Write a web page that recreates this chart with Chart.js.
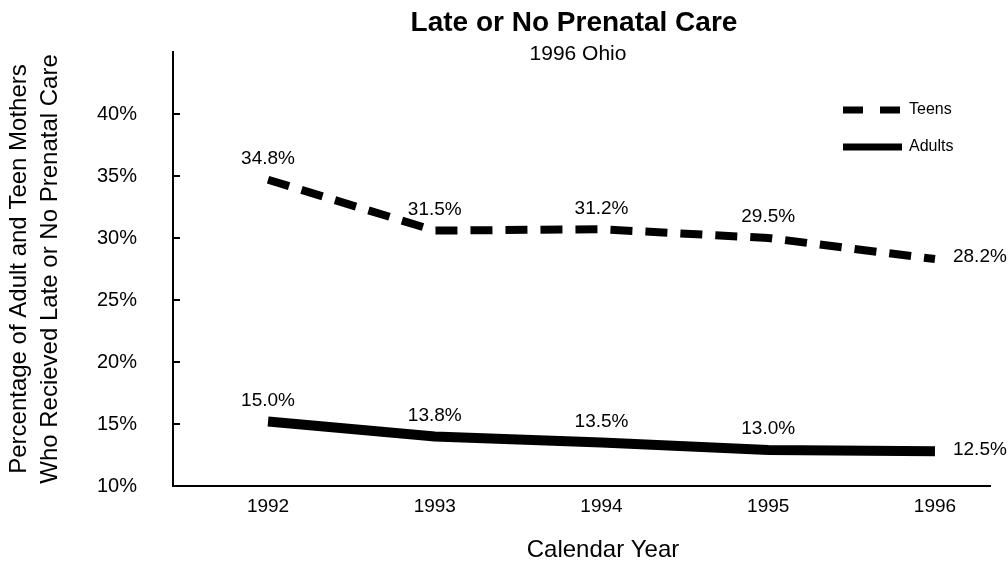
<!DOCTYPE html>
<html>
<head>
<meta charset="utf-8">
<script src="https://cdn.jsdelivr.net/npm/chart.js@4/dist/chart.umd.min.js"></script>
<style>
  html, body { margin: 0; padding: 0; background: #fff; }
  #wrap { width: 1008px; height: 566px; position: relative; }
</style>
</head>
<body>
<div id="wrap"><canvas id="chart" width="1008" height="566"></canvas></div>
<script>
// Data
const years = [1992, 1993, 1994, 1995, 1996];
const teensValues = [34.7, 30.6, 30.7, 30.0, 28.3];
const adultsValues = [15.2, 14.0, 13.5, 12.9, 12.8];
const teensLabels = ['34.8%', '31.5%', '31.2%', '29.5%', '28.2%'];
const adultsLabels = ['15.0%', '13.8%', '13.5%', '13.0%', '12.5%'];
const yTicks = [10, 15, 20, 25, 30, 35, 40];

const FONT = '"Liberation Sans", Arial, Helvetica, sans-serif';

// titles, legend, point labels and inner y ticks
const overlay = {
    id: 'overlay',
    afterDraw(chart) {
        const ctx = chart.ctx;
        const area = chart.chartArea;
        const y = chart.scales.y;
        ctx.save();
        ctx.fillStyle = '#000';
        ctx.strokeStyle = '#000';

        // inner tick marks on y axis
        ctx.lineWidth = 2;
        yTicks.forEach(v => {
            const py = Math.round(y.getPixelForValue(v));
            ctx.beginPath();
            ctx.moveTo(area.left, py);
            ctx.lineTo(area.left + 7, py);
            ctx.stroke();
        });

        // title + subtitle
        ctx.textAlign = 'center';
        ctx.textBaseline = 'middle';
        ctx.font = 'bold 28px ' + FONT;
        ctx.fillText('Late or No Prenatal Care', 574, 23);
        ctx.font = '21px ' + FONT;
        ctx.fillText('1996 Ohio', 578, 54);

        // x axis title
        ctx.font = '24px ' + FONT;
        ctx.fillText('Calendar Year', 603, 550);

        // point labels
        ctx.font = '19px ' + FONT;
        chart.data.datasets.forEach((ds, i) => {
            const meta = chart.getDatasetMeta(i);
            const labels = i === 0 ? teensLabels : adultsLabels;
            meta.data.forEach((pt, j) => {
                if (j === labels.length - 1) {
                    ctx.textAlign = 'left';
                    ctx.fillText(labels[j], pt.x + 18, pt.y - 2);
                } else {
                    ctx.textAlign = 'center';
                    ctx.fillText(labels[j], pt.x, pt.y - 21);
                }
            });
        });

        // legend
        const lx = area.right - 147;
        chart.data.datasets.forEach((ds, i) => {
            const ly = 110 + i * 37;
            ctx.lineWidth = 7;
            ctx.lineCap = 'butt';
            ctx.setLineDash(ds.borderDash ? [20, 17] : []);
            ctx.beginPath();
            ctx.moveTo(lx, ly);
            ctx.lineTo(lx + 59, ly);
            ctx.stroke();
            ctx.setLineDash([]);
            ctx.textAlign = 'left';
            ctx.font = '16px ' + FONT;
            ctx.fillText(ds.label, lx + 66, ly);
        });
        ctx.restore();
    }
};

new Chart(document.getElementById('chart'), {
    type: 'line',
    data: {
        datasets: [{
            label: 'Teens',
            data: years.map((yr, i) => ({ x: yr, y: teensValues[i] })),
            borderColor: '#000',
            borderWidth: 8,
            borderDash: [22, 13],
            borderCapStyle: 'butt',
            pointRadius: 0,
            tension: 0
        }, {
            label: 'Adults',
            data: years.map((yr, i) => ({ x: yr, y: adultsValues[i] })),
            borderColor: '#000',
            borderWidth: 10,
            borderCapStyle: 'butt',
            pointRadius: 0,
            tension: 0
        }]
    },
    options: {
        responsive: false,
        animation: false,
        layout: { padding: { top: 52, right: 18, left: 0, bottom: 0 } },
        plugins: {
            legend: { display: false },
            tooltip: { enabled: false }
        },
        scales: {
            x: {
                type: 'linear',
                min: 1991.43,
                max: 1996.33,
                afterBuildTicks: s => { s.ticks = years.map(v => ({ value: v })); },
                afterFit: s => { s.height = 80; },
                grid: { display: false },
                border: { display: true, color: '#000', width: 2 },
                ticks: {
                    color: '#000',
                    font: { family: FONT, size: 19 },
                    padding: 1,
                    callback: v => String(v)
                }
            },
            y: {
                min: 10,
                max: 45,
                afterBuildTicks: s => { s.ticks = yTicks.map(v => ({ value: v })); },
                afterFit: s => { s.width = 173; },
                grid: { display: false },
                border: { display: true, color: '#000', width: 2 },
                ticks: {
                    color: '#000',
                    font: { family: FONT, size: 20 },
                    padding: 28,
                    callback: v => v + '%'
                },
                title: {
                    display: true,
                    text: ['Percentage of Adult and Teen Mothers', 'Who Recieved Late or No Prenatal Care'],
                    color: '#000',
                    font: { family: FONT, size: 24, lineHeight: 1.3 },
                    padding: { top: 4, bottom: 0 }
                }
            }
        }
    },
    plugins: [overlay]
});
</script>
</body>
</html>
